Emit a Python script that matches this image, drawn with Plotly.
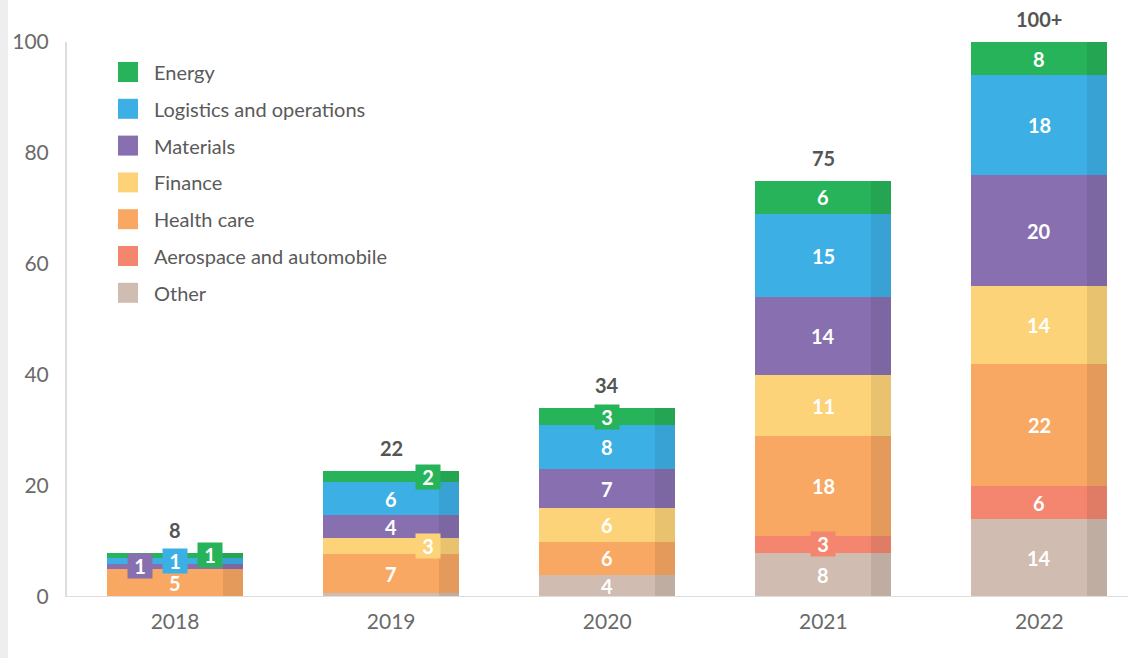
import plotly.graph_objects as go

# ---- data ----
years = ["2018", "2019", "2020", "2021", "2022"]
energy = [1, 2, 3, 6, 8]
logistics = [1, 6, 8, 15, 18]
materials = [1, 4, 7, 14, 20]
finance = [0, 3, 6, 11, 14]
health_care = [5, 7, 6, 18, 22]
aerospace = [0, 0, 0, 3, 6]
other = [0, 0.7, 4, 8, 14]
total_labels = ["8", "22", "34", "75", "100+"]

# bottom -> top stacking order
series = [
    ("Other", other, "#d0bcb0"),
    ("Aerospace and automobile", aerospace, "#f4866f"),
    ("Health care", health_care, "#f8a862"),
    ("Finance", finance, "#fdd37a"),
    ("Materials", materials, "#8870b0"),
    ("Logistics and operations", logistics, "#3cb0e5"),
    ("Energy", energy, "#27b35a"),
]

# badge-style labels (small segments): pixel x-shift
badges = {
    ("2018", "Materials"): -35,
    ("2018", "Logistics and operations"): 0,
    ("2018", "Energy"): 35,
    ("2019", "Energy"): 37,
    ("2019", "Finance"): 37,
    ("2020", "Energy"): 0,
    ("2021", "Aerospace and automobile"): 0,
}

FONT = "Lato"
L, R, T, B = 67, 1128, 42, 597
YMAX = 100


def px(x):
    return (x - L) / (R - L)


def py(y):
    return (B - y) / (B - T)


fig = go.Figure()
annotations = []
shapes = []

base = [0] * len(years)
for name, vals, color in series:
    fig.add_trace(go.Bar(
        x=years, y=vals, base=list(base), name=name,
        marker=dict(color=color, line=dict(width=0)),
        width=0.63, showlegend=False, hoverinfo="skip",
    ))
    for i, (yr, v) in enumerate(zip(years, vals)):
        if v >= 1:
            mid = min(base[i] + v / 2, YMAX - 3)
            key = (yr, name)
            ann = dict(
                x=i, y=mid, xref="x", yref="y", text=f"<b>{int(v)}</b>",
                showarrow=False,
                font=dict(family=FONT, size=20, color="white"),
            )
            if key in badges:
                ann.update(xshift=badges[key], bgcolor=color,
                           width=22, height=22, borderpad=1)
            annotations.append(ann)
    base = [b + v for b, v in zip(base, vals)]

totals = base
# darker right-hand strip on each bar
fig.add_trace(go.Bar(
    x=years, y=totals, base=[0] * len(years), width=0.093, offset=0.222,
    marker=dict(color="rgba(0,0,0,0.08)", line=dict(width=0)),
    showlegend=False, hoverinfo="skip",
))

for i, (tot, lab) in enumerate(zip(totals, total_labels)):
    annotations.append(dict(
        x=i, y=min(tot, YMAX), xref="x", yref="y", text=f"<b>{lab}</b>",
        showarrow=False, yshift=23, yanchor="middle",
        font=dict(family=FONT, size=20, color="#555555"),
    ))

# manual legend (top -> bottom)
for k, (name, vals, color) in enumerate(reversed(series)):
    cy = 72 + k * 36.8
    shapes.append(dict(
        type="rect", xref="paper", yref="paper",
        x0=px(118), x1=px(138), y0=py(cy + 10), y1=py(cy - 10),
        fillcolor=color, line=dict(width=0),
    ))
    annotations.append(dict(
        x=px(152), y=py(cy), xref="paper", yref="paper", text=name,
        showarrow=False, xanchor="left", yanchor="middle",
        font=dict(family=FONT, size=20, color="#5a5a5a"),
    ))

# left grey strip (screenshot edge)
shapes.append(dict(
    type="rect", xref="paper", yref="paper",
    x0=px(0), x1=px(8), y0=py(658), y1=py(0),
    fillcolor="#eeeeee", line=dict(width=0), layer="above",
))
# baseline
shapes.append(dict(
    type="line", xref="paper", yref="y", x0=0, x1=1, y0=0, y1=0,
    line=dict(color="#dddddd", width=2),
))

fig.update_layout(
    width=1128, height=658,
    margin=dict(l=L, r=1128 - R, t=T, b=658 - B),
    paper_bgcolor="white", plot_bgcolor="white",
    barmode="overlay", bargap=0,
    showlegend=False,
    annotations=annotations, shapes=shapes,
    font=dict(family=FONT, color="#666666"),
)
fig.update_xaxes(
    type="category", range=[-0.5, 4.41], showgrid=False, zeroline=False,
    showline=False, ticks="", tickfont=dict(family=FONT, size=21, color="#6a6a6a"),
    ticklabelstandoff=10,
)
fig.update_yaxes(
    range=[0, YMAX], tickvals=[0, 20, 40, 60, 80, 100], showgrid=False,
    zeroline=False, showline=True, linecolor="#dddddd", linewidth=2,
    ticks="", tickfont=dict(family=FONT, size=21, color="#6a6a6a"),
    ticklabelstandoff=12,
)

fig.write_html("out.html")
